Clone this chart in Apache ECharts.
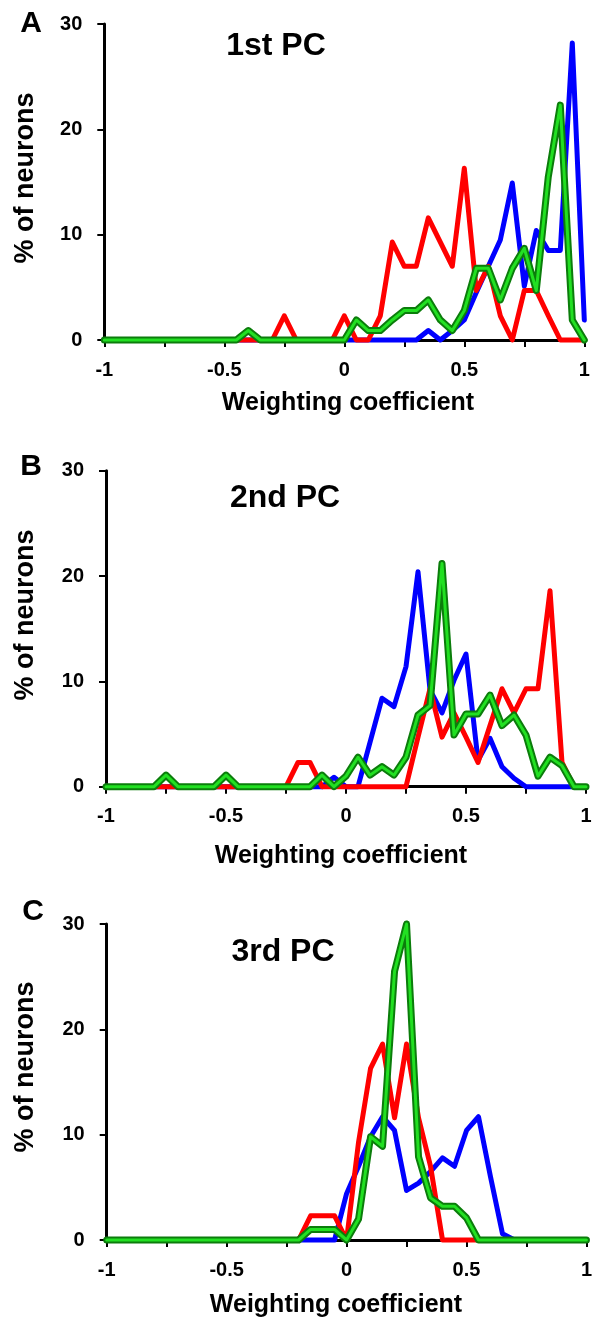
<!DOCTYPE html>
<html>
<head>
<meta charset="utf-8">
<script src="https://cdn.jsdelivr.net/npm/echarts@6/dist/echarts.min.js"></script>
<style>
html,body{margin:0;padding:0;background:#fff;}
#c{width:595px;height:1331px;}
</style>
</head>
<body>
<div id="c"></div>
<script>
// Bins of the weighting coefficient (-1 .. 1, step 0.05)
const bins = Array.from({length: 41}, (_, i) => +(-1 + i * 0.05).toFixed(2));
const xTickLabels = ['-1', '-0.5', '0', '0.5', '1'];
const yTickLabels = ['0', '10', '20', '30'];
const panelLetters = ['A', 'B', 'C'];
const panelTitles = ['1st PC', '2nd PC', '3rd PC'];

// Panel A (1st PC) - % of neurons
const redA   = [0,0,0,0,0,0,0,0,0,0, 0,0,0,0,0,2.3,0,0,0,0, 2.3,0,0,2.3,9.3,7.0,7.0,11.6,9.3,7.0, 16.3,4.7,7.0,2.3,0,4.7,4.7,2.3,0,0, 0];
const blueA  = [0,0,0,0,0,0,0,0,0,0, 0,0,0,0,0,0,0,0,0,0, 0,0,0,0,0,0,0,0.9,0,0.9, 1.9,4.5,7.0,9.5,14.9,5.1,10.4,8.5,8.5,28.2, 1.9];
const greenA = [0,0,0,0,0,0,0,0,0,0, 0,0,0.9,0,0,0,0,0,0,0, 0,1.9,0.9,0.9,1.9,2.8,2.8,3.8,1.9,0.9, 2.8,6.8,6.8,3.8,6.8,8.7,4.7,15.5,22.3,1.9, 0];

// Panel B (2nd PC)
const redB   = [0,0,0,0,0,0,0,0,0,0, 0,0,0,0,0,0,2.3,2.3,0,0, 0,0,0,0,0,0,4.7,9.3,4.7,7.0, 4.7,2.3,5.8,9.3,7.0,9.3,9.3,18.6,2.3,0, 0];
const blueB  = [0,0,0,0,0,0,0,0,0,0, 0,0,0,0,0,0,0,0,0,0.9, 0,0,4.2,8.4,7.6,11.4,20.4,9.2,7.0,10.1, 12.6,2.5,4.6,1.9,0.8,0,0,0,0,0, 0];
const greenB = [0,0,0,0,0,1.1,0,0,0,0, 1.1,0,0,0,0,0,0,0,1.1,0, 1.0,2.8,1.1,1.9,1.1,2.8,6.8,7.7,21.2,4.9, 6.9,6.9,8.7,5.8,6.8,4.9,1.0,2.8,2.0,0, 0];

// Panel C (3rd PC)
const redC   = [0,0,0,0,0,0,0,0,0,0, 0,0,0,0,0,0,0,2.3,2.3,2.3, 0,9.3,16.3,18.6,11.6,18.6,11.6,7.0,0,0, 0,0,0,0,0,0,0,0,0,0, 0];
const blueC  = [0,0,0,0,0,0,0,0,0,0, 0,0,0,0,0,0,0,0,0,0, 4.4,7.0,9.8,11.7,10.4,4.7,5.4,6.5,7.8,7.0, 10.4,11.7,6.0,0.6,0,0,0,0,0,0, 0];
const greenC = [0,0,0,0,0,0,0,0,0,0, 0,0,0,0,0,0,0,1.0,1.0,1.0, 0,2.0,9.8,8.9,25.5,30.0,7.9,4.0,3.2,3.2, 2.1,0,0,0,0,0,0,0,0,0, 0];

const panels = [
  {red: redA, blue: blueA, green: greenA},
  {red: redB, blue: blueB, green: greenB},
  {red: redC, blue: blueC, green: greenC}
];

const FONT = '"Liberation Sans", Arial, Helvetica, sans-serif';
const grids = [
  {left: 104.3, top: 24, width: 480, height: 316},
  {left: 106, top: 470.7, width: 480, height: 316},
  {left: 106.7, top: 924, width: 480, height: 316}
];
const pair = arr => arr.map((v, i) => [bins[i], v]);

const xAxes = grids.map((g, i) => ({
  type: 'value', gridIndex: i, min: -1, max: 1, interval: 0.25,
  axisLine: {show: true, onZero: false, lineStyle: {color: '#000', width: 3}},
  axisTick: {show: true, length: 7, lineStyle: {color: '#000', width: 2}},
  splitLine: {show: false},
  axisLabel: {
    margin: 20, color: '#000', fontSize: 20, fontWeight: 'bold', fontFamily: FONT,
    formatter: v => {
      const k = Math.round(v * 2);
      if (Math.abs(v * 2 - k) > 1e-6) return '';
      return xTickLabels[k + 2];
    }
  }
}));
const yAxes = grids.map((g, i) => ({
  type: 'value', gridIndex: i, min: 0, max: 30, interval: 10,
  axisLine: {show: true, onZero: false, lineStyle: {color: '#000', width: 3}},
  axisTick: {show: true, length: 7, lineStyle: {color: '#000', width: 2}},
  splitLine: {show: false},
  axisLabel: {
    margin: 22, color: '#000', fontSize: 20, fontWeight: 'bold', fontFamily: FONT,
    formatter: v => yTickLabels[Math.round(v / 10)]
  }
}));

const series = [];
panels.forEach((p, i) => {
  const base = {type: 'line', xAxisIndex: i, yAxisIndex: i, showSymbol: false, symbol: 'none', clip: false, animation: false, silent: true};
  series.push(Object.assign({}, base, {data: pair(p.blue), lineStyle: {color: '#0000ff', width: 5, join: 'round', cap: 'round'}, z: 2}));
  series.push(Object.assign({}, base, {data: pair(p.red), lineStyle: {color: '#ff0000', width: 5, join: 'round', cap: 'round'}, z: 3}));
  series.push(Object.assign({}, base, {data: pair(p.green), lineStyle: {color: '#0b7d0b', width: 7, join: 'round', cap: 'round'}, z: 4}));
  series.push(Object.assign({}, base, {data: pair(p.green), lineStyle: {color: '#22e022', width: 3, join: 'round', cap: 'round'}, z: 5}));
});

const letterPos = [[31, 24], [31, 467], [33, 912]];
const titlePos = [[276, 46], [285, 498], [283, 952]];
const yTitlePos = [[26, 178], [26, 615], [26, 1067]];
const xTitlePos = [[348, 403], [341, 856], [336, 1305]];

const graphic = [];
for (let i = 0; i < 3; i++) {
  graphic.push({type: 'text', x: letterPos[i][0], y: letterPos[i][1], style: {text: panelLetters[i], font: 'bold 30px ' + FONT, fill: '#000', align: 'center', verticalAlign: 'middle'}});
  graphic.push({type: 'text', x: titlePos[i][0], y: titlePos[i][1], style: {text: panelTitles[i], font: 'bold 32px ' + FONT, fill: '#000', align: 'center', verticalAlign: 'middle'}});
  graphic.push({type: 'text', x: yTitlePos[i][0], y: yTitlePos[i][1], rotation: Math.PI / 2, style: {text: '% of neurons', font: 'bold 27px ' + FONT, fill: '#000', align: 'center', verticalAlign: 'middle'}});
  graphic.push({type: 'text', x: xTitlePos[i][0], y: xTitlePos[i][1], style: {text: 'Weighting coefficient', font: 'bold 25px ' + FONT, fill: '#000', align: 'center', verticalAlign: 'middle'}});
}

const chart = echarts.init(document.getElementById('c'), null, {renderer: 'canvas'});
chart.setOption({
  animation: false,
  backgroundColor: '#fff',
  grid: grids,
  xAxis: xAxes,
  yAxis: yAxes,
  series: series,
  graphic: graphic
});
</script>
</body>
</html>
